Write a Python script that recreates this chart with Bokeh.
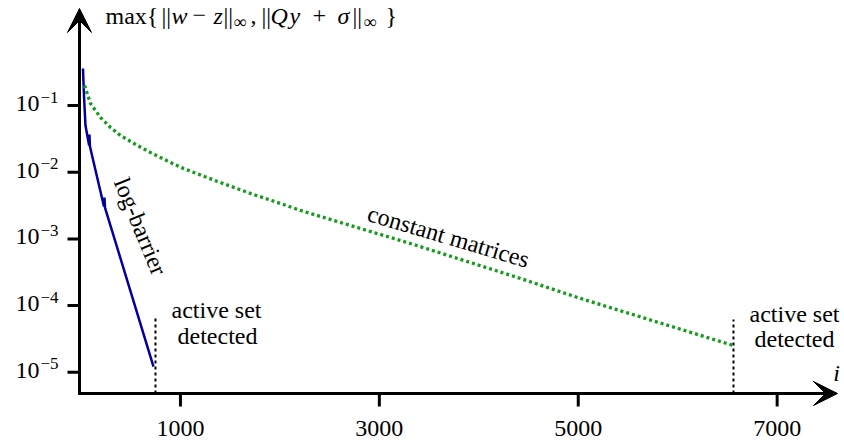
from bokeh.plotting import figure
from bokeh.models import Range1d, Arrow, VeeHead, Label
from bokeh.core.properties import value
from bokeh.embed import file_html
from bokeh.resources import INLINE

# ---------------- data ----------------
logbarrier_iter = [20, 30, 45, 82, 85, 90, 231, 236, 241, 729]
logbarrier_res = [0.359, 0.141, 0.050, 0.0251, 0.0367, 0.0243, 0.00306, 0.00417, 0.00295, 1.22e-5]

constant_iter = [35, 96, 196, 297, 397, 568, 699, 870, 1031, 1373, 1704, 2036, 2207, 3313, 4420, 5022, 6561]
constant_res = [0.200, 0.107, 0.0661, 0.0468, 0.0355, 0.0251, 0.0197, 0.01472, 0.01135, 0.00726,
                0.0048, 0.00328, 0.00267, 0.000853, 0.000255, 0.000128, 2.52e-5]

detect_iter = [749, 6561]
detect_top = [6.6e-5, 6.2e-5]

xticks = [1000, 3000, 5000, 7000]
xtick_labels = ["1000", "3000", "5000", "7000"]
yticks = [1e-1, 1e-2, 1e-3, 1e-4, 1e-5]
ytick_base = ["10", "10", "10", "10", "10"]
ytick_exp = ["−1", "−2", "−3", "−4", "−5"]

FONT = "Liberation Serif"
W, H = 844, 445

# pixel -> data helpers (canvas coordinates measured on the reference)
X0_S = 80.5       # canvas x of iteration 0
SX = 0.09945      # pixels per iteration
Y1_S = 105        # canvas y of 1e-1
DEC = 66.7        # pixels per decade


def xd(sx):
    return (sx - X0_S) / SX


def yd(sy):
    return 10 ** (-1 + (Y1_S - sy) / DEC)


def shift(v, dpx):
    # move a log-scale value up by dpx pixels
    return v * 10 ** (dpx / DEC)


x_axis_pos = xd(79)     # where the vertical axis stands
y_axis_pos = yd(393)    # where the horizontal axis lies

p = figure(width=W, height=H, output_backend="svg", toolbar_location=None,
           x_range=Range1d(xd(0), xd(W)), y_range=Range1d(yd(H), yd(0)),
           y_axis_type="log", x_axis_location=None, y_axis_location=None,
           min_border=0)
p.outline_line_color = None
p.grid.visible = False
p.background_fill_color = "white"
p.border_fill_color = "white"

# ticks
p.segment(x0=xticks, y0=[y_axis_pos] * len(xticks), x1=xticks, y1=[yd(406)] * len(xticks),
          line_color="black", line_width=3)
p.segment(x0=[xd(67)] * len(yticks), y0=yticks, x1=[x_axis_pos] * len(yticks), y1=yticks,
          line_color="black", line_width=3)

# tick labels
p.text(x=xticks, y=[yd(428)] * len(xticks), text=xtick_labels, text_font=value(FONT),
       text_font_size="24px", text_align="center", text_baseline="middle", text_color="black")
p.text(x=[xd(39)] * len(yticks), y=[shift(t, 2) for t in yticks], text=ytick_base,
       text_font=value(FONT), text_font_size="24px", text_align="right",
       text_baseline="middle", text_color="black")
p.text(x=[xd(40)] * len(yticks), y=[shift(t, 8.5) for t in yticks], text=ytick_exp,
       text_font=value(FONT), text_font_size="17px", text_align="left",
       text_baseline="middle", text_color="black")

# series
p.line(logbarrier_iter, logbarrier_res, line_color="#0000a0", line_width=2.5)
p.line(constant_iter, constant_res, line_color="#119c19", line_width=3.3, line_dash="3 3")
p.segment(x0=detect_iter, y0=[y_axis_pos] * len(detect_iter), x1=detect_iter, y1=detect_top,
          line_color="black", line_width=2, line_dash="3 3")

# axis lines with arrow heads
p.add_layout(Arrow(end=VeeHead(size=24, fill_color="black", line_color="black"),
                   x_start=xd(77.5), y_start=y_axis_pos, x_end=xd(837), y_end=y_axis_pos,
                   line_width=3, line_color="black"))
p.add_layout(Arrow(end=VeeHead(size=24, fill_color="black", line_color="black"),
                   x_start=x_axis_pos, y_start=yd(394.5), x_end=x_axis_pos, y_end=yd(8),
                   line_width=3, line_color="black"))


def lab(text, sx, sy, size=24, align="left", angle=0, style="normal"):
    # sy is the vertical middle of the text line
    p.add_layout(Label(x=xd(sx), y=yd(sy), text=text, text_font=FONT,
                       text_font_size=f"{size}px", text_align=align, text_baseline="middle",
                       angle=angle, angle_units="deg", text_font_style=style,
                       text_color="black"))


# axis title made of pieces
TM = 15
lab("max{", 105, TM)
lab("||", 161, TM)
lab("w", 171, TM, style="italic")
lab("−", 192, TM)
lab("z", 213, TM, style="italic")
lab("||", 223, TM)
lab("∞", 233, TM + 6, size=18)
lab(",", 250, TM)
lab("||", 261, TM)
lab("Q", 270, TM, style="italic")
lab("y", 289, TM, style="italic")
lab("+", 312, TM)
lab("σ", 337, TM, style="italic")
lab("||", 352, TM)
lab("∞", 363, TM + 6, size=18)
lab("}", 385, TM)

# annotations
lab("log-barrier", 140, 226, align="center", angle=-67.6)
lab("constant matrices", 448, 236, align="center", angle=-16.4)
lab("active set", 216, 309, align="center")
lab("detected", 217, 335, align="center")
lab("active set", 794, 313, align="center")
lab("detected", 794, 338, align="center")
lab("i", 836, 372, align="center", style="italic")

open("out.html", "w").write(file_html(p, INLINE))
